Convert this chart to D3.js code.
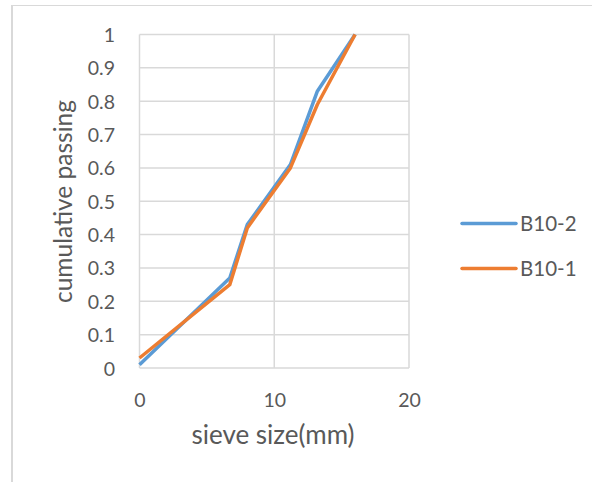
<!DOCTYPE html>
<html><head><meta charset="utf-8">
<script src="https://cdn.jsdelivr.net/npm/d3@7"></script>
<style>body{margin:0;background:#fff}svg{display:block}text{font-family:Lato,"Open Sans",sans-serif;fill:#595959}</style>
</head><body>
<svg id="c" width="592" height="482"></svg>
<script>
const seriesNames = ["B10-2", "B10-1"];
const sizesB102 = [0, 6.7, 8, 11.2, 13.2, 16];
const passB102 = [0.01, 0.27, 0.43, 0.61, 0.83, 1.0];
const sizesB101 = [0, 6.7, 8, 11.2, 13.2, 16];
const passB101 = [0.03, 0.25, 0.42, 0.60, 0.79, 1.0];
const xTicks = [0, 10, 20];
const yTicks = [0, 0.1, 0.2, 0.3, 0.4, 0.5, 0.6, 0.7, 0.8, 0.9, 1];
const colors = ["#5B9BD5", "#ED7D31"];

const svg = d3.select("#c");
svg.append("line").attr("x1",12).attr("x2",592).attr("y1",5.5).attr("y2",5.5).attr("stroke","#d9d9d9").attr("stroke-width",1);
svg.append("line").attr("x1",12).attr("x2",12).attr("y1",5).attr("y2",482).attr("stroke","#d9d9d9").attr("stroke-width",2);

const x = d3.scaleLinear().domain([0,20]).range([139.5,409]);
const y = d3.scaleLinear().domain([0,1]).range([368,34.5]);

const g = svg.append("g");
g.selectAll(".hg").data(yTicks).enter().append("line")
  .attr("x1",x(0)).attr("x2",x(20)).attr("y1",d=>y(d)).attr("y2",d=>y(d))
  .attr("stroke","#d9d9d9").attr("stroke-width",1.5);
g.selectAll(".vg").data(xTicks).enter().append("line")
  .attr("y1",y(0)).attr("y2",y(1)).attr("x1",d=>x(d)).attr("x2",d=>x(d))
  .attr("stroke","#d9d9d9").attr("stroke-width",1.5);

const fmt = d3.format("~g");
const yAxis = d3.axisLeft(y).tickValues(yTicks).tickSize(0).tickPadding(24.5).tickFormat(fmt);
const ya = svg.append("g").attr("transform",`translate(${x(0)},0)`).call(yAxis);
ya.select(".domain").remove();
ya.selectAll("text").attr("font-size",19.5).attr("dy","0.36em")
  .style("font-family","Lato, 'Open Sans', sans-serif").attr("fill","#595959");

const xAxis = d3.axisBottom(x).tickValues(xTicks).tickSize(0).tickPadding(0).tickFormat(fmt);
const xa = svg.append("g").attr("transform",`translate(0,${y(0)})`).call(xAxis);
xa.select(".domain").remove();
xa.selectAll("text").attr("font-size",19.5).attr("y",39).attr("dy",0)
  .style("font-family","Lato, 'Open Sans', sans-serif").attr("fill","#595959");

svg.append("text").attr("transform",`translate(72,201.5) rotate(-90)`).attr("text-anchor","middle")
  .attr("font-size",24.5).text("cumulative passing");
svg.append("text").attr("x",273).attr("y",444).attr("text-anchor","middle")
  .attr("font-size",26).text("sieve size(mm)");

const line = d3.line().x(d=>x(d[0])).y(d=>y(d[1]));
const data = [d3.zip(sizesB102, passB102), d3.zip(sizesB101, passB101)];
svg.selectAll(".ser").data(data).enter().append("path")
  .attr("d",line).attr("fill","none").attr("stroke",(d,i)=>colors[i]).attr("stroke-width",3.5)
  .attr("stroke-linejoin","round");

const legY = [223.5, 268.5];
const leg = svg.selectAll(".leg").data(seriesNames).enter().append("g");
leg.append("line").attr("x1",462).attr("x2",516).attr("y1",(d,i)=>legY[i]).attr("y2",(d,i)=>legY[i])
  .attr("stroke",(d,i)=>colors[i]).attr("stroke-width",3.5).attr("stroke-linecap","round");
leg.append("text").attr("x",520).attr("y",(d,i)=>legY[i]+7).attr("font-size",20.5).text(d=>d);
</script>
</body></html>
